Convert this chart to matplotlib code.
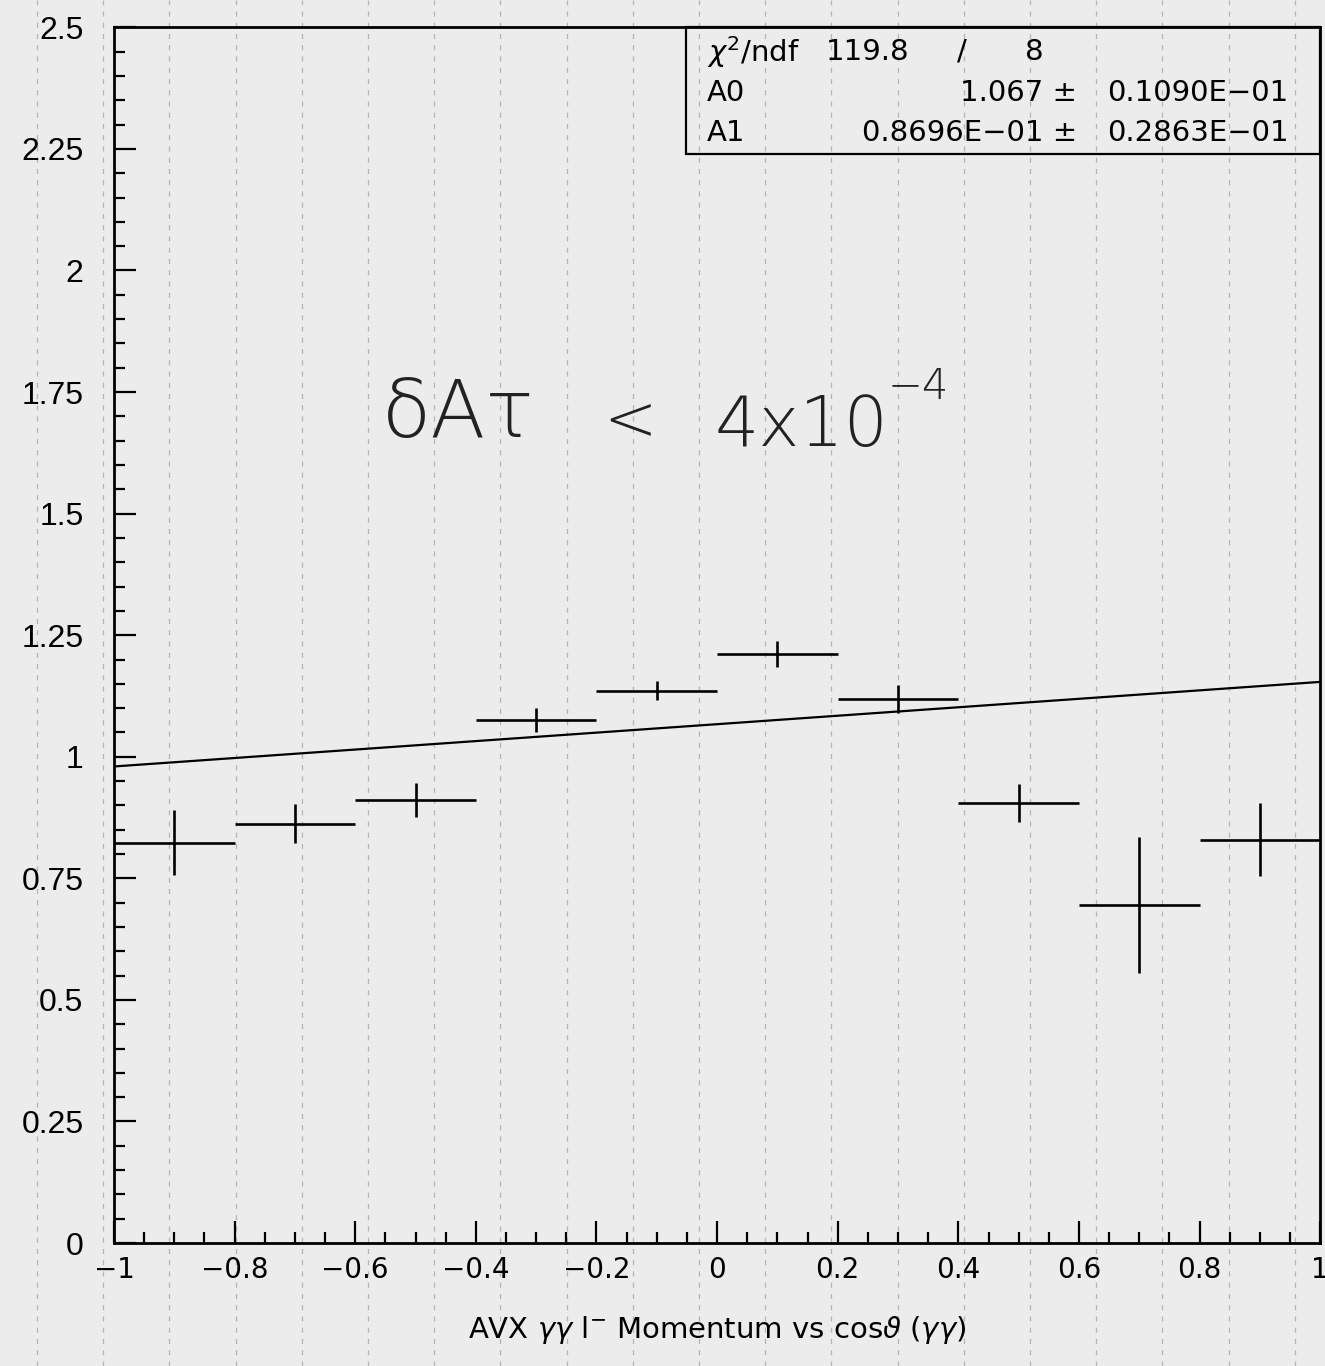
import numpy as np
import matplotlib.pyplot as plt
from matplotlib.lines import Line2D
from matplotlib.patches import Rectangle

plt.rcParams['font.family'] = ['Liberation Sans', 'DejaVu Sans']
plt.rcParams['mathtext.fontset'] = 'dejavusans'

# bin centres / half widths in cos(theta)
xc = [-0.9, -0.7, -0.5, -0.3, -0.1, 0.1, 0.3, 0.5, 0.7, 0.9]
xw = [0.1] * 10
yv = [0.823, 0.862, 0.912, 1.076, 1.136, 1.212, 1.119, 0.905, 0.695, 0.829]
ye = [0.067, 0.040, 0.035, 0.025, 0.020, 0.027, 0.028, 0.040, 0.140, 0.075]

# linear fit result
chi2, ndf = 119.8, 8
A0, A0_err = 1.067, 0.01090
A1, A1_err = 0.08696, 0.02863

xticks = [-1, -0.8, -0.6, -0.4, -0.2, 0, 0.2, 0.4, 0.6, 0.8, 1]
yticks = [0, 0.25, 0.5, 0.75, 1, 1.25, 1.5, 1.75, 2, 2.25, 2.5]

MINUS = '\u2212'


def paw(v):
    # PAW style number, e.g. 0.1090E-01
    e = int(np.floor(np.log10(abs(v)))) + 1
    if e == 1:
        return '%.3f' % v
    return '%.4fE%s%02d' % (v / 10.0**e, MINUS if e < 0 else '+', abs(e))


def lab(t):
    return ('%g' % t).replace('-', MINUS)


fig = plt.figure(figsize=(13.25, 13.66), dpi=100, facecolor='#ececec')

# ruled paper lines behind everything
for fx in np.arange(37, 1325, 66.2) / 1325:
    fig.add_artist(Line2D([fx, fx], [0, 1], transform=fig.transFigure,
                          color='#b4b4b4', lw=0.9, ls=(0, (4, 5)), zorder=-5))

ax = fig.add_axes([0.086, 0.090, 0.9104, 0.890])
ax.set_facecolor('none')

ax.errorbar(xc, yv, xerr=xw, yerr=ye, fmt='none', ecolor='black',
            elinewidth=1.9, capsize=0)
xf = np.array([-1.0, 1.0])
ax.plot(xf, A0 + A1 * xf, color='black', lw=1.6)

ax.set_xlim(-1, 1)
ax.set_ylim(0, 2.5)
ax.set_xticks(xticks)
ax.set_xticklabels([lab(t) for t in xticks], family='DejaVu Sans', fontsize=20)
ax.set_yticks(yticks)
ax.set_yticklabels([lab(t) for t in yticks], fontsize=23)
ax.set_xticks(np.arange(-1, 1.001, 0.05), minor=True)
ax.set_yticks(np.arange(0, 2.501, 0.05), minor=True)
ax.tick_params(which='both', direction='in', top=False, right=False, width=1.6)
ax.tick_params(which='major', length=16)
ax.tick_params(which='minor', length=8)
ax.tick_params(axis='y', pad=22)
ax.tick_params(axis='x', pad=9)
for s in ax.spines.values():
    s.set_linewidth(2)

ax.set_xlabel(r'AVX $\gamma\gamma$ l$^{-}$ Momentum vs cos$\vartheta$ ($\gamma\gamma$)',
              fontsize=21, family='DejaVu Sans', labelpad=22)

# fit statistics box
ax.add_patch(Rectangle((0.474, 0.896), 0.526, 0.104, transform=ax.transAxes,
                       fill=False, lw=1.6, ec='black', clip_on=False))
kw = dict(transform=ax.transAxes, fontsize=21, family='DejaVu Sans', va='center')
r1, r2, r3 = 0.980, 0.946, 0.913
ax.text(0.4917, r1, r'$\chi^2$/ndf', **kw)
ax.text(0.590, r1, '%.1f' % chi2, **kw)
ax.text(0.703, r1, '/', ha='center', **kw)
ax.text(0.763, r1, '%d' % ndf, ha='center', **kw)
ax.text(0.4917, r2, 'A0', **kw)
ax.text(0.7985, r2, paw(A0) + ' \u00b1', ha='right', **kw)
ax.text(0.974, r2, paw(A0_err), ha='right', **kw)
ax.text(0.4917, r3, 'A1', **kw)
ax.text(0.7985, r3, paw(A1) + ' \u00b1', ha='right', **kw)
ax.text(0.974, r3, paw(A1_err), ha='right', **kw)

# hand written note
hw = dict(family='DejaVu Sans', fontweight='light', color='#222222')
ax.text(-0.555, 1.658, '\u03b4A\u03c4', fontsize=58, **hw)
ax.text(-0.188, 1.652, '<', fontsize=46, **hw)
ax.text(-0.005, 1.640, '4x10', fontsize=50, **hw)
ax.text(0.282, 1.735, MINUS + '4', fontsize=30, **hw)

fig.savefig('out.png', dpi=100, facecolor=fig.get_facecolor())
